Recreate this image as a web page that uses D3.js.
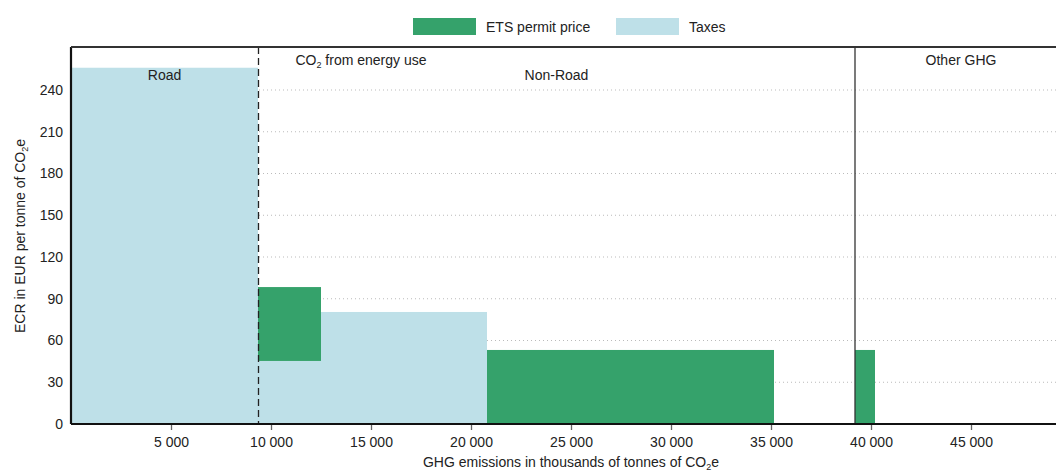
<!DOCTYPE html>
<html>
<head>
<meta charset="utf-8">
<script src="https://d3js.org/d3.v7.min.js"></script>
<style>
  body { margin: 0; background: #fff; }
  svg text { font-family: 'Liberation Sans', Arial, sans-serif; fill: #222; }
</style>
</head>
<body>
<svg id="chart" width="1056" height="473"></svg>
<script>
// blocks: [x0, x1] in thousand tonnes, taxes and ETS part of the ECR
var blockStart = [0, 9350, 12500, 20800, 39200];
var blockEnd   = [9350, 12500, 20800, 35150, 40200];
var taxValues  = [256, 45.3, 80.5, 0, 0];
var etsValues  = [0, 53.1, 0, 53.2, 53.2];

var yTicks = [0, 30, 60, 90, 120, 150, 180, 210, 240];
var xTicks = [5000, 10000, 15000, 20000, 25000, 30000, 35000, 40000, 45000];

var sectorLines = [9375, 39200];           // dashed, solid
var sectorLabels = [
  { text: "Road", x: 4675, row: 1 },
  { text: "CO2", x: 14500, row: 0 },
  { text: "Non-Road", x: 24275, row: 1 },
  { text: "Other GHG", x: 44500, row: 0 }
];

var green = "#35a26b", blue = "#bee0e8";

var svg = d3.select("#chart"),
    margin = { top: 47, right: 0, bottom: 49, left: 71 },
    width = 1056 - margin.left - margin.right,
    height = 473 - margin.top - margin.bottom;

var x = d3.scaleLinear().domain([0, 49250]).range([0, width]);
var y = d3.scaleLinear().domain([0, 270.9]).range([height, 0]);

var g = svg.append("g").attr("transform", "translate(" + margin.left + "," + margin.top + ")");

// grid
g.selectAll(".grid").data(yTicks.slice(1)).enter().append("line")
  .attr("x1", 0).attr("x2", width)
  .attr("y1", function (d) { return y(d); }).attr("y2", function (d) { return y(d); })
  .attr("stroke", "#bbb").attr("stroke-width", 1).attr("stroke-dasharray", "1,3");

var blocks = blockStart.map(function (s, i) {
  return { x0: s, x1: blockEnd[i], tax: taxValues[i], ets: etsValues[i] };
});

g.selectAll(".tax").data(blocks.filter(function (d) { return d.tax > 0; })).enter().append("rect")
  .attr("x", function (d) { return x(d.x0); })
  .attr("width", function (d) { return x(d.x1) - x(d.x0); })
  .attr("y", function (d) { return y(d.tax); })
  .attr("height", function (d) { return y(0) - y(d.tax); })
  .attr("fill", blue);

g.selectAll(".ets").data(blocks.filter(function (d) { return d.ets > 0; })).enter().append("rect")
  .attr("x", function (d) { return x(d.x0); })
  .attr("width", function (d) { return x(d.x1) - x(d.x0); })
  .attr("y", function (d) { return y(d.tax + d.ets); })
  .attr("height", function (d) { return y(d.tax) - y(d.tax + d.ets); })
  .attr("fill", green);

// sector separators
g.append("line")
  .attr("x1", x(sectorLines[0])).attr("x2", x(sectorLines[0]))
  .attr("y1", 0).attr("y2", height)
  .attr("stroke", "#222").attr("stroke-width", 1.3).attr("stroke-dasharray", "7,4");
g.append("line")
  .attr("x1", x(sectorLines[1])).attr("x2", x(sectorLines[1]))
  .attr("y1", 0).attr("y2", height)
  .attr("stroke", "#333").attr("stroke-width", 1.3);

// sector labels
sectorLabels.forEach(function (d) {
  var t = g.append("text")
    .attr("x", x(d.x))
    .attr("y", d.row === 0 ? 18 : 33)
    .attr("text-anchor", "middle")
    .attr("font-size", 14);
  if (d.text === "CO2") {
    t.append("tspan").text("CO");
    t.append("tspan").attr("font-size", 9).attr("dy", 3).text("2");
    t.append("tspan").attr("dy", -3).text(" from energy use");
  } else {
    t.text(d.text);
  }
});

// axes
var xAxis = g.append("g")
  .attr("transform", "translate(0," + height + ")")
  .call(d3.axisBottom(x).tickValues(xTicks).tickSize(6).tickPadding(7)
    .tickFormat(function (d) { return d3.format(",")(d).replace(",", " "); }));
xAxis.select(".domain").remove();
xAxis.selectAll("line").attr("stroke", "#666").attr("stroke-width", 1.3);
xAxis.selectAll("text").attr("font-size", 14).attr("font-family", "'Liberation Sans', Arial, sans-serif").attr("fill", "#222");

var yAxis = g.append("g")
  .call(d3.axisLeft(y).tickValues(yTicks).tickSize(0).tickPadding(8));
yAxis.select(".domain").remove();
yAxis.selectAll("text").attr("font-size", 14).attr("font-family", "'Liberation Sans', Arial, sans-serif").attr("fill", "#222");

// frame lines
g.append("line").attr("x1", 0).attr("x2", width).attr("y1", height).attr("y2", height)
  .attr("stroke", "#111").attr("stroke-width", 2.2);
g.append("line").attr("x1", 0).attr("x2", 0).attr("y1", 0).attr("y2", height)
  .attr("stroke", "#111").attr("stroke-width", 2.2);
g.append("line").attr("x1", 0).attr("x2", width).attr("y1", 0).attr("y2", 0)
  .attr("stroke", "#333").attr("stroke-width", 1.8);

// axis titles
var xt = svg.append("text")
  .attr("x", 571).attr("y", 467)
  .attr("text-anchor", "middle").attr("font-size", 14);
xt.append("tspan").text("GHG emissions in thousands of tonnes of CO");
xt.append("tspan").attr("font-size", 9).attr("dy", 3).text("2");
xt.append("tspan").attr("dy", -3).text("e");

var yt = svg.append("text")
  .attr("transform", "translate(25,236) rotate(-90)")
  .attr("text-anchor", "middle").attr("font-size", 14);
yt.append("tspan").text("ECR in EUR per tonne of CO");
yt.append("tspan").attr("font-size", 9).attr("dy", 3).text("2");
yt.append("tspan").attr("dy", -3).text("e");

// legend
var legendItems = [{ label: "ETS permit price", color: green, x: 413 }, { label: "Taxes", color: blue, x: 616 }];
var lg = svg.selectAll(".legend").data(legendItems).enter().append("g")
  .attr("transform", function (d) { return "translate(" + d.x + ",18)"; });
lg.append("rect").attr("width", 63).attr("height", 17).attr("fill", function (d) { return d.color; });
lg.append("text").attr("x", 73).attr("y", 14).attr("font-size", 14).text(function (d) { return d.label; });
</script>
</body>
</html>
